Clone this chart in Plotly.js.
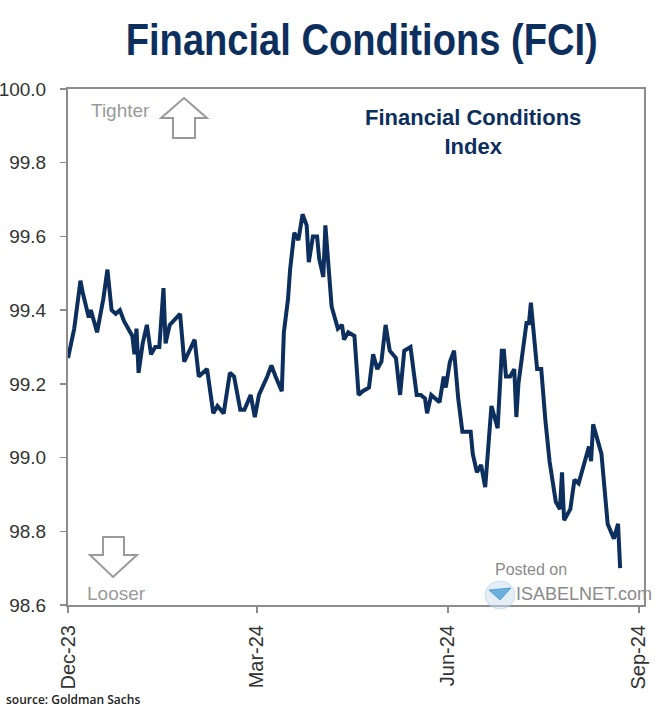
<!DOCTYPE html>
<html>
<head>
<meta charset="utf-8">
<script src="https://cdn.plot.ly/plotly-3.0.1.min.js"></script>
<style>html,body{margin:0;padding:0;background:#fff;}#chart{width:670px;height:717px;}</style>
</head>
<body>
<div id="chart"></div>
<script>
// ---- Data ----
const dates = [
  '2023-12-01','2023-12-04','2023-12-07','2023-12-08','2023-12-11','2023-12-12','2023-12-15','2023-12-18','2023-12-20','2023-12-22',
  '2023-12-24','2023-12-26','2023-12-28','2024-01-01','2024-01-02','2024-01-03','2024-01-04','2024-01-06','2024-01-08','2024-01-10',
  '2024-01-12','2024-01-14','2024-01-16','2024-01-17','2024-01-19','2024-01-24','2024-01-26','2024-01-31','2024-02-02','2024-02-06',
  '2024-02-09','2024-02-11','2024-02-14','2024-02-17','2024-02-19','2024-02-22','2024-02-24','2024-02-27','2024-02-29','2024-03-02',
  '2024-03-06','2024-03-08','2024-03-10','2024-03-13','2024-03-14','2024-03-16','2024-03-17','2024-03-19','2024-03-21','2024-03-23',
  '2024-03-25','2024-03-26','2024-03-28','2024-03-30','2024-03-31','2024-04-02','2024-04-03','2024-04-04','2024-04-06','2024-04-09',
  '2024-04-11','2024-04-12','2024-04-14','2024-04-17','2024-04-19','2024-04-21','2024-04-24','2024-04-26','2024-04-28','2024-04-30',
  '2024-05-02','2024-05-04','2024-05-07','2024-05-09','2024-05-11','2024-05-14','2024-05-17','2024-05-19','2024-05-21','2024-05-22',
  '2024-05-24','2024-05-28','2024-05-30','2024-05-31','2024-06-02','2024-06-04','2024-06-06','2024-06-08','2024-06-12','2024-06-13',
  '2024-06-15','2024-06-17','2024-06-19','2024-06-22','2024-06-25','2024-06-27','2024-06-28','2024-06-29','2024-07-01','2024-07-03',
  '2024-07-04','2024-07-05','2024-07-09','2024-07-10','2024-07-11','2024-07-14','2024-07-16','2024-07-18','2024-07-20','2024-07-23',
  '2024-07-25','2024-07-26','2024-07-27','2024-07-30','2024-08-01','2024-08-03','2024-08-06','2024-08-08','2024-08-09','2024-08-10',
  '2024-08-14','2024-08-17','2024-08-20','2024-08-22','2024-08-23'
];
const fciValues = [
  99.27,99.35,99.48,99.45,99.38,99.40,99.34,99.43,99.51,99.40,
  99.39,99.40,99.37,99.33,99.28,99.35,99.23,99.31,99.36,99.28,
  99.30,99.30,99.46,99.31,99.36,99.39,99.26,99.32,99.22,99.24,
  99.12,99.14,99.12,99.23,99.22,99.13,99.13,99.17,99.11,99.17,
  99.22,99.25,99.22,99.18,99.34,99.43,99.51,99.61,99.59,99.66,
  99.63,99.53,99.60,99.60,99.54,99.49,99.63,99.56,99.41,99.35,
  99.36,99.32,99.34,99.33,99.17,99.18,99.19,99.28,99.24,99.26,
  99.36,99.29,99.27,99.17,99.29,99.30,99.17,99.17,99.16,99.12,
  99.17,99.15,99.22,99.19,99.26,99.29,99.16,99.07,99.07,99.01,
  98.96,98.98,98.92,99.14,99.08,99.29,99.29,99.22,99.22,99.24,
  99.11,99.20,99.37,99.36,99.42,99.24,99.24,99.10,98.99,98.88,
  98.86,98.96,98.83,98.86,98.94,98.93,98.99,99.03,98.99,99.09,
  99.01,98.82,98.78,98.82,98.70
];
const xTickVals = ['2023-12-01','2024-03-01','2024-06-01','2024-09-01'];
const xTickText = ['Dec-23','Mar-24','Jun-24','Sep-24'];
const yTickVals = [98.6,98.8,99.0,99.2,99.4,99.6,99.8,100.0];

// ---- Layout helpers (pixel -> paper) ----
const L = 68, R = 644, T = 89, B = 605;
const px = x => (x - L) / (R - L);
const py = y => (B - y) / (B - T);
const pt = (x, y) => px(x).toFixed(4) + ',' + py(y).toFixed(4);

const navy = '#0d2f5e';
const grey = '#8c8c8c';
const xFont = {family: 'Liberation Sans, Arial, sans-serif', size: 20, color: '#333333'};
const yFont = {family: 'Liberation Sans, Arial, sans-serif', size: 19, color: '#333333'};

const upArrow = 'M' + pt(184,98) + ' L' + pt(207,118) + ' L' + pt(195,118) + ' L' + pt(195,138) +
  ' L' + pt(173,138) + ' L' + pt(173,118) + ' L' + pt(161,118) + ' Z';
const downArrow = 'M' + pt(113,577) + ' L' + pt(137,555) + ' L' + pt(124,555) + ' L' + pt(124,537) +
  ' L' + pt(103,537) + ' L' + pt(103,555) + ' L' + pt(90,555) + ' Z';

const trace = {
  x: dates, y: fciValues, type: 'scatter', mode: 'lines',
  line: {color: navy, width: 4}, hoverinfo: 'x+y'
};

const layout = {
  width: 670, height: 717,
  margin: {l: L, r: 670 - R, t: T, b: 717 - B, pad: 0},
  paper_bgcolor: '#ffffff', plot_bgcolor: '#ffffff',
  showlegend: false,
  xaxis: {
    type: 'date', range: ['2023-12-01', '2024-09-03 12:00'],
    tickmode: 'array', tickvals: xTickVals, ticktext: xTickText, tickangle: -90,
    ticks: 'outside', ticklen: 6, tickwidth: 1.5, tickcolor: grey,
    showline: true, linecolor: grey, linewidth: 2, mirror: true,
    showgrid: false, zeroline: false, tickfont: xFont, ticklabelstandoff: 4
  },
  yaxis: {
    range: [98.6, 100.0], tickmode: 'array', tickvals: yTickVals, tickformat: '.1f',
    ticks: 'outside', ticklen: 6, tickwidth: 1.5, tickcolor: grey,
    showline: true, linecolor: grey, linewidth: 2, mirror: true,
    showgrid: false, zeroline: false, tickfont: yFont, ticklabelstandoff: 10
  },
  shapes: [
    {type: 'path', xref: 'paper', yref: 'paper', path: upArrow, line: {color: '#9a9a9a', width: 2}, fillcolor: 'rgba(0,0,0,0)'},
    {type: 'path', xref: 'paper', yref: 'paper', path: downArrow, line: {color: '#9a9a9a', width: 2}, fillcolor: 'rgba(0,0,0,0)'},
    {type: 'circle', xref: 'paper', yref: 'paper', x0: px(485), x1: px(515), y0: py(609), y1: py(581),
     line: {color: 'rgba(170,200,225,0.5)', width: 1}, fillcolor: 'rgba(200,222,240,0.5)'},
    {type: 'path', xref: 'paper', yref: 'paper',
     path: 'M' + pt(489,590) + ' L' + pt(511,588) + ' L' + pt(500,600) + ' Z',
     line: {color: 'rgba(60,150,210,0.8)', width: 1}, fillcolor: 'rgba(60,150,210,0.7)'}
  ],
  annotations: [
    {text: '<b>Financial Conditions (FCI)</b>', xref: 'paper', yref: 'paper', x: px(361), y: py(39),
     xanchor: 'center', yanchor: 'middle', showarrow: false,
     font: {family: 'Liberation Sans, Arial, sans-serif', size: 45, color: navy}},
    {text: '<b>Financial Conditions<br>Index</b>', xref: 'paper', yref: 'paper', x: px(473), y: py(132),
     xanchor: 'center', yanchor: 'middle', showarrow: false, align: 'center',
     font: {family: 'Liberation Sans, Arial, sans-serif', size: 22, color: navy}},
    {text: 'Tighter', xref: 'paper', yref: 'paper', x: px(89), y: py(111), xanchor: 'left', yanchor: 'middle',
     showarrow: false, font: {family: 'Liberation Sans, Arial, sans-serif', size: 19, color: '#9a9a9a'}},
    {text: 'Looser', xref: 'paper', yref: 'paper', x: px(85), y: py(593), xanchor: 'left', yanchor: 'middle',
     showarrow: false, font: {family: 'Liberation Sans, Arial, sans-serif', size: 19, color: '#9a9a9a'}},
    {text: 'Posted on', xref: 'paper', yref: 'paper', x: px(531), y: py(569), xanchor: 'center', yanchor: 'middle',
     showarrow: false, font: {family: 'Liberation Sans, Arial, sans-serif', size: 16, color: '#8a8a8a'}},
    {text: 'ISABELNET.com', xref: 'paper', yref: 'paper', x: px(514), y: py(594), xanchor: 'left', yanchor: 'middle',
     showarrow: false, font: {family: 'Liberation Sans, Arial, sans-serif', size: 18, color: '#8a8a8a'}},
    {text: 'source: Goldman Sachs', xref: 'paper', yref: 'paper', x: px(4), y: py(700), xanchor: 'left', yanchor: 'middle',
     showarrow: false, font: {family: 'Open Sans, sans-serif', size: 12, color: '#222222', weight: 600}}
  ]
};

Plotly.newPlot('chart', [trace], layout, {displayModeBar: false, staticPlot: true}).then(function (gd) {
  // Condense the main title horizontally (the reference uses a narrow face).
  const t = gd.querySelector('.annotation text');
  if (t) {
    const bb = t.getBBox();
    const cx = bb.x + bb.width / 2;
    const target = 472;
    const s = Math.min(1, target / bb.width);
    t.setAttribute('transform', 'translate(' + cx + ',0) scale(' + s + ',1) translate(' + (-cx) + ',0)');
  }
});
</script>
</body>
</html>
